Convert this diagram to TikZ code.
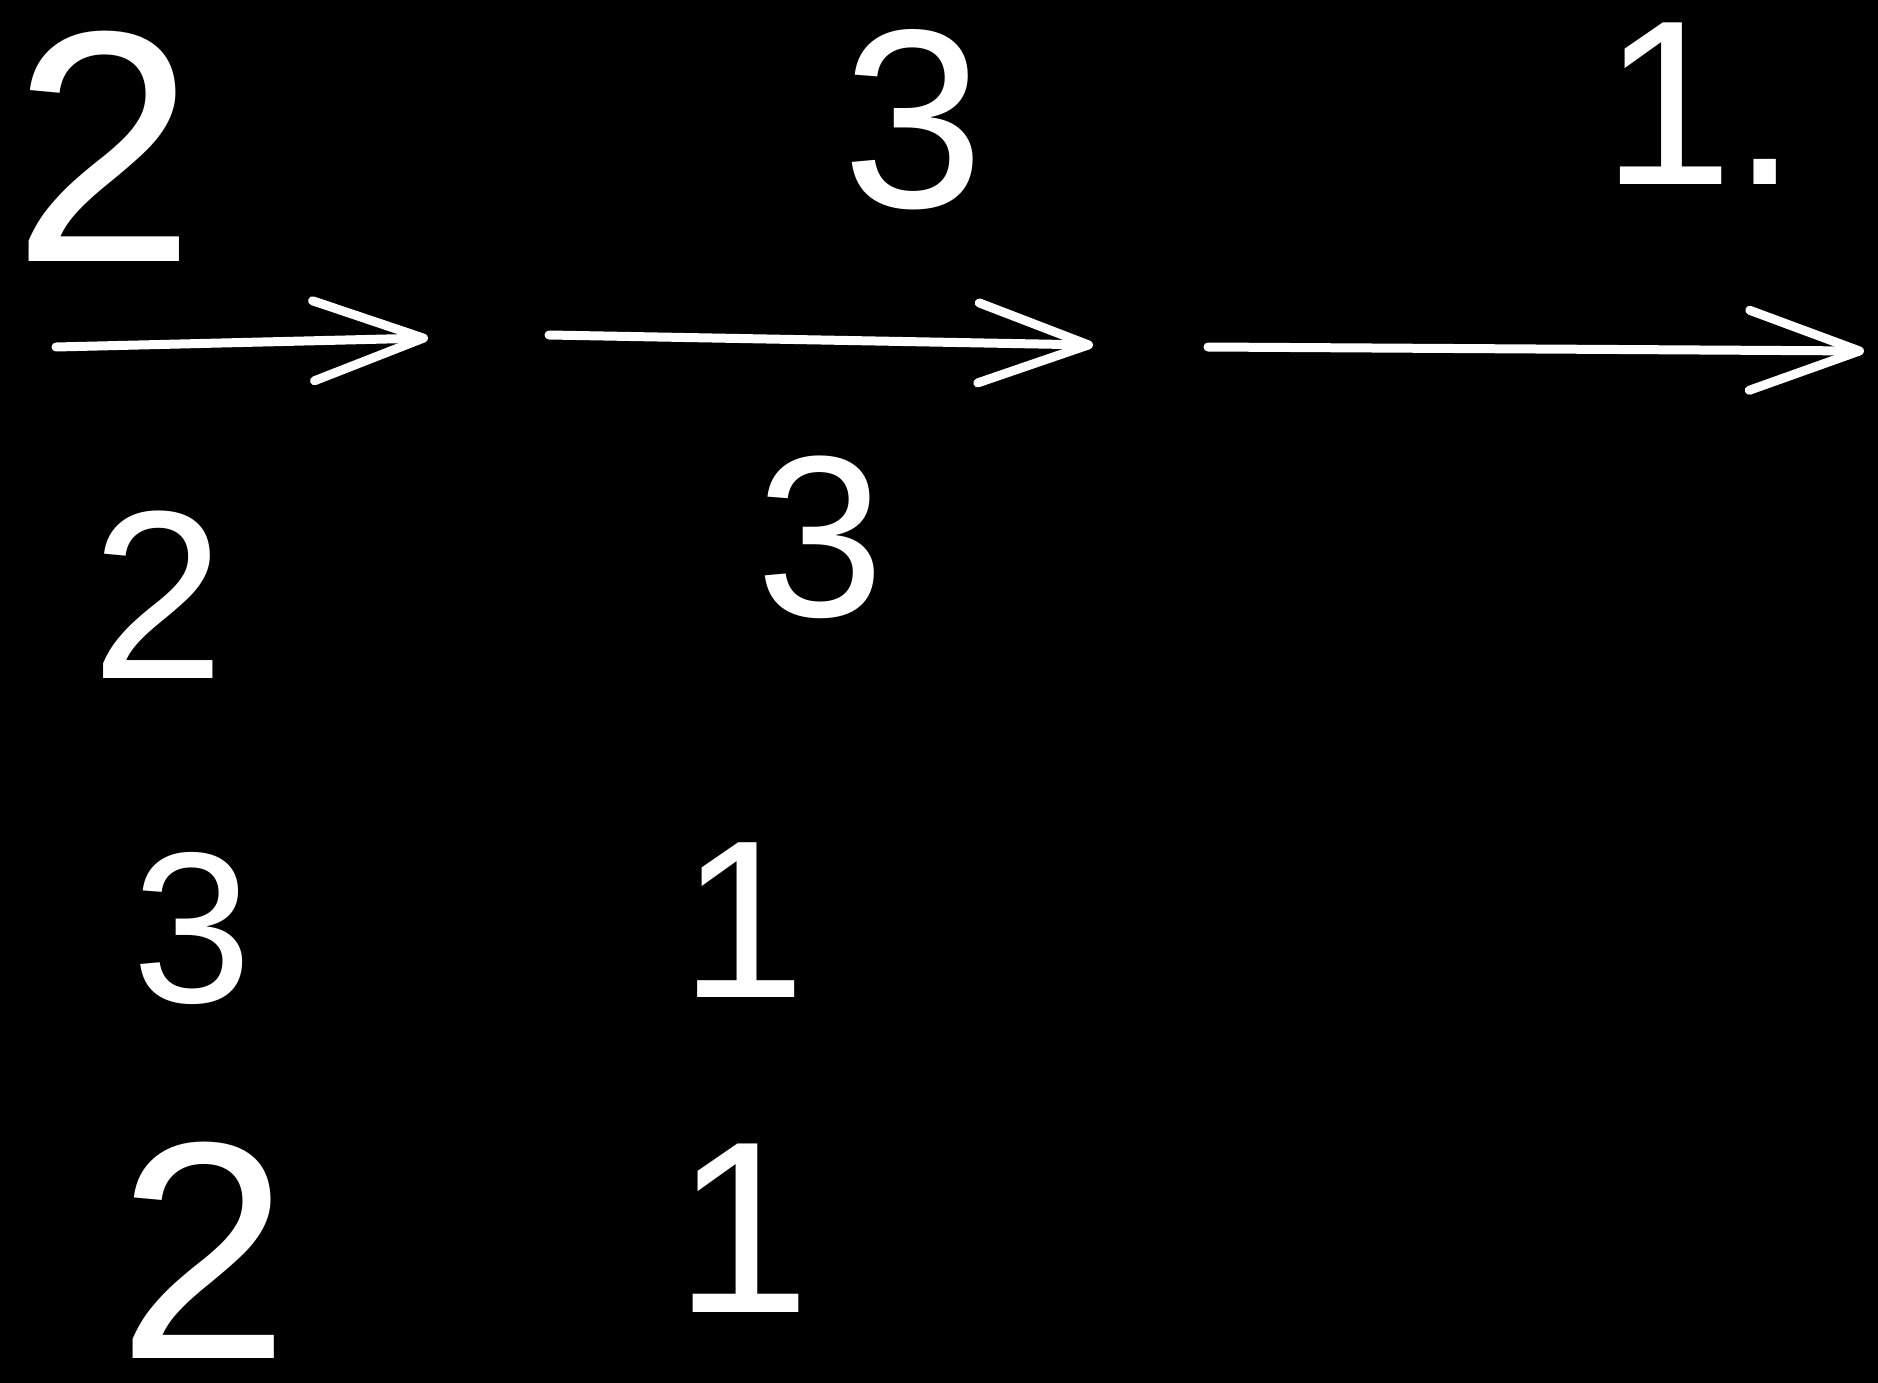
\documentclass[tikz,border=0pt]{standalone}
\usepackage{fontspec}
\setmainfont{Liberation Sans}
\usetikzlibrary{arrows.meta}
\begin{document}
\begin{tikzpicture}[x=1pt,y=-1pt,
  digit/.style={text=white,inner sep=0pt,font=\fontsize{#1}{#1}\selectfont},
  hand/.style={draw=white,line width=9pt,line cap=round,-{Straight Barb[length=110pt,width=80pt,line width=9pt,round]}}]
\fill[black] (0,0) rectangle (1878,1383);
\useasboundingbox (0,0) rectangle (1878,1383);
\node[digit=330] (t2) at (104,146) {2};
\node[digit=255] (t3) at (913,120) {3};
\node[digit=235] (t1) at (1700,104) {1.};
\node[digit=240] (r2a) at (158,595) {2};
\node[digit=230] (r2b) at (820,537) {3};
\node[digit=215] (r3a) at (192,928) {3};
\node[digit=225] (r3b) at (743,920) {1};
\node[digit=310] (r4a) at (204,1250) {2};
\node[digit=245] (r4b) at (743,1228) {1};
\coordinate (a1s) at (56,347); \coordinate (a1e) at (428,338);
\coordinate (a2s) at (549,335); \coordinate (a2e) at (1093,345);
\coordinate (a3s) at (1208,347); \coordinate (a3e) at (1864,351);
\draw[hand] (a1s) -- (a1e);
\draw[hand] (a2s) -- (a2e);
\draw[hand] (a3s) -- (a3e);
\end{tikzpicture}
\end{document}
